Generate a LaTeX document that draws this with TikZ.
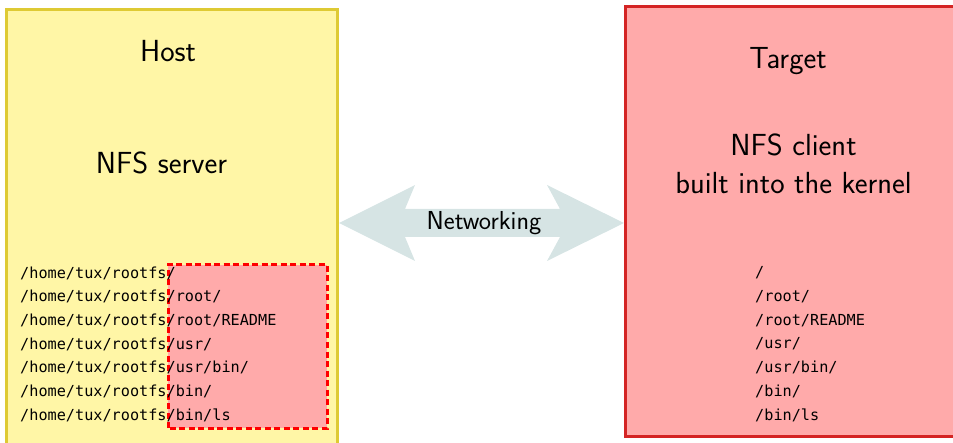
\documentclass[tikz,border=0pt]{standalone}
\usepackage{fontspec}
\newfontfamily\monofont{DejaVu Sans Mono}
\usetikzlibrary{calc}

\definecolor{hostfill}{RGB}{255,246,166}
\definecolor{hostline}{RGB}{222,202,52}
\definecolor{targetfill}{RGB}{255,170,170}
\definecolor{targetline}{RGB}{212,36,36}
\definecolor{netfill}{RGB}{214,228,228}
\definecolor{exportline}{RGB}{255,0,0}

\begin{document}
\begin{tikzpicture}[x=1pt,y=1pt,
    big/.style={font=\sffamily\fontsize{30.5}{38}\selectfont},
    fspath/.style={font=\monofont\fontsize{15.2}{18}\selectfont, anchor=west, inner sep=0pt}]

    % Fix the size of the picture
    \useasboundingbox (0,0) rectangle (953,442);
    \clip (0,0) rectangle (953,442);

    % Draw the host and the target
    \node[draw=hostline, fill=hostfill, line width=3pt, minimum width=331pt,
          minimum height=435.5pt, inner sep=0pt] (host) at (172,214.75) {};
    \node[draw=targetline, fill=targetfill, line width=3pt, minimum width=331.5pt,
          minimum height=430pt, inner sep=0pt] (target) at (791.25,220.5) {};

    % Exported part of the host file system
    \draw[exportline, fill=targetfill, line width=3pt, dash pattern=on 6pt off 3.5pt]
        (168,14) rectangle (327,177);

    % Networking arrow between host and target
    \coordinate (netL) at (host.east |- 0,219);
    \coordinate (netR) at (target.west |- 0,219);
    \fill[netfill] (netL) -- ($(netL)+(76,38)$) -- ($(netL)+(66,14)$)
        -- ($(netR)+(-64,14)$) -- ($(netR)+(-77,38)$) -- (netR)
        -- ($(netR)+(-77,-38)$) -- ($(netR)+(-64,-14)$)
        -- ($(netL)+(66,-14)$) -- ($(netL)+(76,-38)$) -- cycle;
    \node[font=\sffamily\fontsize{26}{32}\selectfont] (net) at (484,219) {Networking};

    % Add labels for the boxes
    \node[big] (hostname) at (168,391) {Host};
    \node[big] (server) at (161.5,279) {NFS server};
    \node[big] (targetname) at (788,381) {Target};
    \node[big, align=center] (client) at (793.5,278) {NFS client\\built into the kernel};

    % File names on both sides
    \foreach \i/\f in {0/{/},1/{/root/},2/{/root/README},3/{/usr/},
                       4/{/usr/bin/},5/{/bin/},6/{/bin/ls}} {
        \node[fspath] (h\i) at (20,169-23.7*\i) {/home/tux/rootfs\f};
        \node[fspath] (t\i) at (755,169-23.7*\i) {\f};
    }

\end{tikzpicture}
\end{document}
